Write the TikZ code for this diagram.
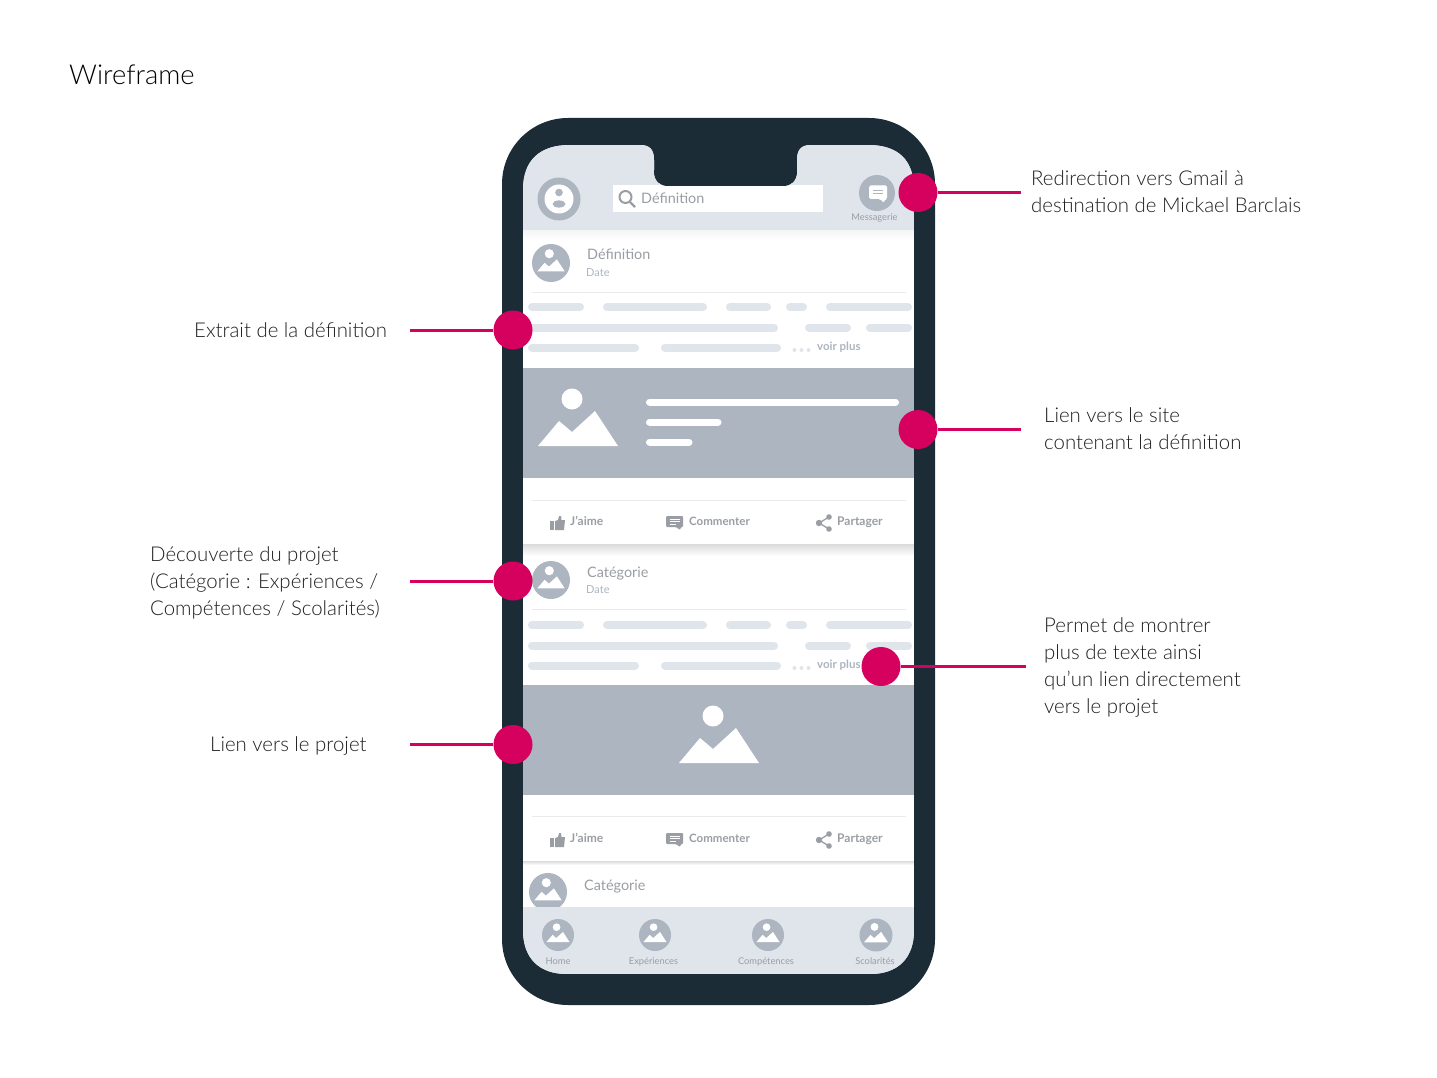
\documentclass[tikz,border=0pt]{standalone}
\usepackage{fontspec}
\setmainfont{Lato}
\newfontfamily\lightfont{Lato Light}
\definecolor{phone}{HTML}{1B2C37}
\definecolor{pink}{HTML}{D6005F}
\definecolor{lightbar}{HTML}{E0E5EB}
\definecolor{midgray}{HTML}{ADB5C0}
\definecolor{txtgray}{HTML}{9A9EA4}
\definecolor{sepline}{HTML}{E8EAEE}
\definecolor{ink}{HTML}{1F1F1F}
\tikzset{
  dot/.style={circle,fill=pink,minimum size=39pt,inner sep=0pt},
  leader/.style={draw=pink,line width=3pt},
  note/.style={align=left,anchor=west,font=\lightfont\fontsize{20.4}{27}\selectfont,text=ink,inner sep=0pt},
  ui/.style={anchor=west,inner sep=0pt,text=txtgray},
  bigui/.style={ui,font=\fontsize{14.4}{16}\selectfont},
  smallui/.style={ui,font=\fontsize{11}{12}\selectfont,text=midgray},
  act/.style={anchor=base west,inner sep=0pt,font=\bfseries\fontsize{12}{12}\selectfont,text=txtgray},
  voir/.style={anchor=base west,inner sep=0pt,font=\bfseries\fontsize{11.5}{12}\selectfont,text=midgray},
  tiny/.style={anchor=center,inner sep=0pt,text=txtgray,font=\fontsize{9.3}{10}\selectfont},
  sep/.style={draw=sepline,line width=1pt},
  bar/.style={draw=lightbar,line width=8pt,line cap=round},
}
\newcommand{\mtn}[3]{% centre x, centre y, radius
  \begin{scope}
    \fill[midgray] (#1,#2) circle[radius=#3];
    \clip (#1,#2) circle[radius=#3];
    \fill[white] ({#1-0.09*#3},{#2-0.49*#3}) circle[radius=0.24*#3];
    \fill[white] ({#1-0.72*#3},{#2+0.44*#3}) -- ({#1-0.34*#3},{#2-0.01*#3}) -- ({#1-0.11*#3},{#2+0.19*#3}) -- ({#1+0.31*#3},{#2-0.19*#3}) -- ({#1+0.72*#3},{#2+0.44*#3}) -- cycle;
  \end{scope}}
\newcommand{\bandmtn}[2]{% left x of the mountain, base y
  \fill[white] ({#1+34},{#2-47}) circle[radius=10.5];
  \fill[white] (#1,#2) -- ({#1+21},{#2-25}) -- ({#1+34},{#2-14}) -- ({#1+57},{#2-35}) -- ({#1+80},#2) -- cycle;}
\newcommand{\textrows}[1]{%
  \draw[bar] (532,#1) -- (580,#1) (607,#1) -- (703,#1) (730,#1) -- (767,#1) (790,#1) -- (803,#1) (830,#1) -- (908,#1);
  \draw[bar] (532,{#1+20.5}) -- (774,{#1+20.5}) (809,{#1+20.5}) -- (847,{#1+20.5}) (870,{#1+20.5}) -- (908,{#1+20.5});
  \draw[bar] (532,{#1+40.5}) -- (635,{#1+40.5}) (665,{#1+40.5}) -- (777,{#1+40.5});
  \foreach \dx in {794.5,801.5,808.5} \fill[lightbar] (\dx,{#1+43}) circle[radius=2];}
\newcommand{\actions}[2]{% y of row, suffix for names
  % thumb
  \fill[txtgray] (550,{#1}) rectangle (553.5,{#1+9});
  \fill[txtgray] (555,{#1}) -- (558,{#1-1}) -- (559,{#1-5}) -- (561,{#1-5}) -- (561.5,{#1-1}) -- (565,{#1-1}) -- (564,{#1+9}) -- (555,{#1+9}) -- cycle;
  \node[act] (jaime#2) at (570,{#1+4}) {J’aime};
  % bubble
  \fill[txtgray,rounded corners=1pt] (666,{#1-5}) -- (683,{#1-5}) -- (683,{#1+6}) -- (681,{#1+6}) -- (680,{#1+9}) -- (676,{#1+6}) -- (666,{#1+6}) -- cycle;
  \draw[white,line width=.9pt] (669.5,{#1-2}) -- (679.5,{#1-2}) (669.5,{#1+.5}) -- (679.5,{#1+.5}) (669.5,{#1+3}) -- (676,{#1+3});
  \node[act,font=\bfseries\fontsize{11.5}{12}\selectfont] (comm#2) at (689,{#1+4}) {Commenter};
  % share
  \draw[txtgray,line width=1.3pt] (829,{#1-4}) -- (819,{#1+2}) -- (829,{#1+8});
  \fill[txtgray] (829,{#1-4}) circle[radius=2.8] (819,{#1+2}) circle[radius=3.2] (829,{#1+8}) circle[radius=2.8];
  \node[act] (part#2) at (837,{#1+4}) {Partager};}
\begin{document}
\begin{tikzpicture}[x=1pt,y=-1pt]
\useasboundingbox (0,0) rectangle (1437,1078);
\fill[white] (0,0) rectangle (1437,1078);
\node[anchor=west,inner sep=0pt,text=black,font=\lightfont\fontsize{27.4}{32}\selectfont] (title) at (69,75) {Wireframe};
% phone body
\fill[phone,rounded corners=66pt] (502,118) rectangle (935,1005);
\begin{scope}
  % screen outline as clip
  \clip (523,190) .. controls (523,160) and (540,145) .. (570,145) -- (640,145)
     .. controls (650,145) and (654,150) .. (654,160) -- (654,172)
     .. controls (654,181) and (660,186) .. (668,186) -- (783,186)
     .. controls (791,186) and (797,181) .. (797,172) -- (797,160)
     .. controls (797,150) and (801,145) .. (811,145) -- (868,145)
     .. controls (898,145) and (914,160) .. (914,190) -- (914,930)
     .. controls (914,958) and (898,974) .. (870,974) -- (567,974)
     .. controls (539,974) and (523,958) .. (523,930) -- cycle;
  \fill[white] (523,145) rectangle (914,974);
  \fill[lightbar] (523,145) rectangle (914,230);
  \shade[top color=black!4,bottom color=white] (523,230) rectangle (914,240);
  % first card
  \textrows{307}
  \fill[midgray] (523,368) rectangle (914,478);
  \shade[top color=black!14,bottom color=white] (523,544) rectangle (914,556);
  % second card
  \textrows{625}
  \fill[midgray] (523,685) rectangle (914,795);
  \shade[top color=black!14,bottom color=white] (523,861) rectangle (914,865);
  % third card and bottom bar
  \mtn{548}{892}{19}
  \fill[lightbar] (523,907) rectangle (914,974);
\end{scope}
% search box and the notch over it
\fill[white] (613,185) rectangle (823,212);
\fill[phone] (654,170) .. controls (654,181) and (660,186) .. (668,186) -- (783,186) .. controls (791,186) and (797,181) .. (797,170) -- cycle;
% header
\fill[midgray] (559,199) circle[radius=21.5];
\fill[white] (559,199) circle[radius=14.5];
\fill[midgray] (559,192.5) circle[radius=3.8];
\fill[midgray] (559,204) ellipse[x radius=6.5,y radius=3.6];
\draw[txtgray,line width=2pt] (625.5,197) circle[radius=6];
\draw[txtgray,line width=2.4pt] (630,202) -- (635,207);
\node[bigui] (search) at (641,198) {Définition};
\fill[midgray] (877,193) circle[radius=18];
\fill[white,rounded corners=1.5pt] (869,185.5) -- (887,185.5) -- (887,199) -- (885,199) -- (884,203) -- (880,199) -- (869,199) -- cycle;
\draw[midgray,line width=.7pt] (873,190) -- (883,190) (873,193) -- (883,193);
\node[tiny] (msg) at (874.5,218) {Messagerie};
% first card contents
\mtn{551}{263}{19}
\node[bigui] (def) at (587,254) {Définition};
\node[smallui] (date1) at (586,272.5) {Date};
\draw[sep] (532,292) -- (906,292);
\node[voir] (voir1) at (817,350) {voir plus};
\bandmtn{538}{446}
\draw[white,line width=7pt,line cap=round] (649.5,402) -- (895.5,402) (649.5,422) -- (718,422) (649.5,442) -- (689,442);
\draw[sep] (532,500) -- (906,500);
\actions{521}{a}
% second card contents
\mtn{551}{580}{19}
\node[bigui] (cat) at (587,574) {Catégorie};
\node[smallui] (date2) at (586,589.5) {Date};
\draw[sep] (532,609) -- (906,609);
\node[voir] (voir2) at (817,668) {voir plus};
\bandmtn{679}{763}
\draw[sep] (532,816) -- (906,816);
\actions{838}{b}
\node[bigui] (cat3) at (584,887) {Catégorie};
% bottom bar
\mtn{558}{935}{16}
\mtn{655}{935}{16}
\mtn{768}{935}{16}
\mtn{876}{935}{16.5}
\node[tiny] (home) at (558,961.5) {Home};
\node[tiny] (exp) at (653.5,961.5) {Expériences};
\node[tiny] (comp) at (766,961.5) {Compétences};
\node[tiny] (sco) at (875,961.5) {Scolarités};
% annotation dots
\node[dot] (d1) at (918,192.5) {};
\node[dot] (d2) at (513,330) {};
\node[dot] (d3) at (918,429.5) {};
\node[dot] (d4) at (513,581) {};
\node[dot] (d5) at (881,666.5) {};
\node[dot] (d6) at (513,744.5) {};
\coordinate (e1) at (1021,192.5);
\coordinate (e2) at (410,330);
\coordinate (e3) at (1021,429.5);
\coordinate (e4) at (410,581);
\coordinate (e5) at (1026,666.5);
\coordinate (e6) at (410,744.5);
\foreach \a/\b in {d1/e1,d2/e2,d3/e3,d4/e4,d5/e5,d6/e6} \draw[leader] (\a) -- (\b);
% notes
\node[note] (n1) at (1031,191.5) {Redirection vers Gmail à\\destination de Mickael Barclais};
\node[note] (n2) at (194,330) {Extrait de la définition};
\node[note] (n3) at (1044,428.5) {Lien vers le site\\contenant la définition};
\node[note] (n4) at (150,583) {Découverte du projet\\(Catégorie : Expériences /\\Compétences / Scolarités)};
\node[note] (n5) at (1044,667.5) {Permet de montrer\\plus de texte ainsi\\qu’un lien directement\\vers le projet};
\node[note] (n6) at (210,746) {Lien vers le projet};
\end{tikzpicture}
\end{document}
